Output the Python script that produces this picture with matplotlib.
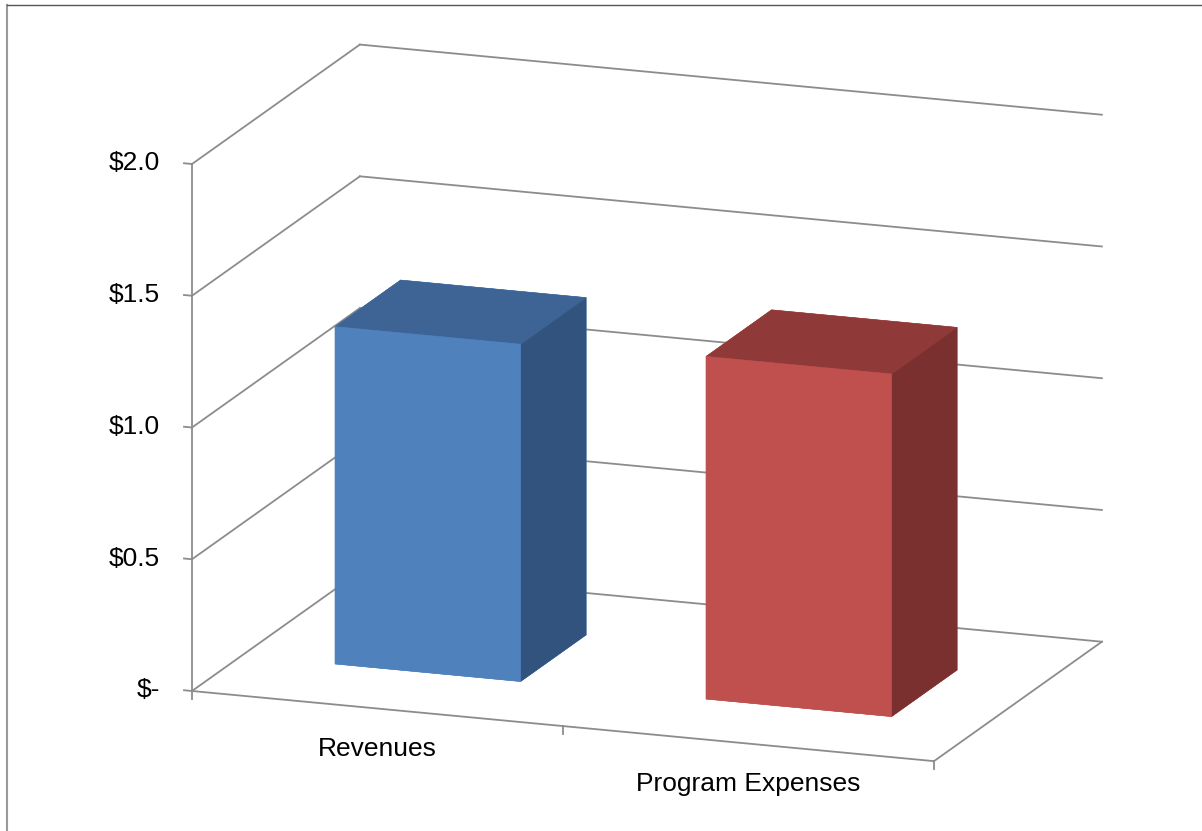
import numpy as np
import matplotlib
matplotlib.use("Agg")
import matplotlib.pyplot as plt
from matplotlib.lines import Line2D
from matplotlib.text import Text
from mpl_toolkits.mplot3d import proj3d

# ---------------- data ----------------
categories = ["Revenues", "Program Expenses"]
values = [1.28, 1.30]
tick_values = [0.0, 0.5, 1.0, 1.5, 2.0]
tick_labels = ["$-", "$0.5", "$1.0", "$1.5", "$2.0"]

front_colors = ["#4F81BD", "#C0504D"]
top_colors = ["#3D6495", "#8F3A38"]
side_colors = ["#32537D", "#7A302E"]

# ---------------- figure ----------------
W, H = 1202, 831
plt.rcParams["font.family"] = ["Liberation Sans", "DejaVu Sans"]
fig = plt.figure(figsize=(W / 100, H / 100), dpi=100)
fig.patch.set_facecolor("white")

ax = fig.add_axes([0.0, 0.0, 1.0, 1.0], projection="3d",
                  proj_type="ortho", computed_zorder=False)
ax.view_init(elev=15.03, azim=-69.97)
aspect = (789.8, 490.2, 545.7)
ax.set_box_aspect(aspect, zoom=1)
ncat = len(categories)
ax.set_xlim(0, ncat)
ax.set_ylim(0, 1)
ax.set_zlim(0, tick_values[-1])
ax.set_xticks([])
ax.set_yticks([])
ax.set_zticks([])
ax.set_axis_off()
ax.patch.set_visible(False)

grid_c = "#8C8C8C"
lw = 1.3
zmax = tick_values[-1]

# walls: gridlines on left wall and back wall
for v in tick_values:
    ax.plot([0, 0], [0, 1], [v, v], color=grid_c, lw=lw, zorder=1, clip_on=False)
    ax.plot([0, ncat], [1, 1], [v, v], color=grid_c, lw=lw, zorder=1, clip_on=False)
    # value ticks
    ax.plot([0, -0.0216], [0, 0], [v, v], color=grid_c, lw=lw, zorder=1, clip_on=False)

# vertical axis line
ax.plot([0, 0], [0, 0], [0, zmax], color=grid_c, lw=lw, zorder=1, clip_on=False)
# floor outline
ax.plot([0, ncat], [0, 0], [0, 0], color=grid_c, lw=lw, zorder=1, clip_on=False)
ax.plot([ncat, ncat], [0, 1], [0, 0], color=grid_c, lw=lw, zorder=1, clip_on=False)
# category ticks
for i in range(ncat + 1):
    ax.plot([i, i], [0, 0], [0, -0.03], color=grid_c, lw=lw, zorder=1, clip_on=False)

# bars
xs = np.arange(ncat) + 0.25
ys = np.full(ncat, 0.30)
zs = np.zeros(ncat)
face_cols = []
for i in range(ncat):
    # bottom, top, front(-y), back(+y), left(-x), right(+x)
    face_cols += [front_colors[i], top_colors[i], front_colors[i],
                  front_colors[i], front_colors[i], side_colors[i]]
bars = ax.bar3d(xs, ys, zs, 0.5, 0.39, values, color=face_cols,
                shade=False, edgecolor=face_cols, linewidth=0.4, zorder=2)
bars.set_clip_on(False)

# value labels
for v, lab in zip(tick_values, tick_labels):
    ax.text(-0.0864, 0, v, lab, zdir=None, ha="right", va="center_baseline",
            fontsize=19, color="black")

# category labels
for i, cat in enumerate(categories):
    ax.text(i + 0.5, 0, -0.155, cat, zdir=None, ha="center", va="center",
            fontsize=19, color="black")

# hide unused (empty) text objects of the 3D axes
for t in fig.findobj(Text):
    if t.get_text() == "":
        t.set_visible(False)

# ---------------- calibrate placement ----------------
def to_px(x, y, z):
    X, Y, _ = proj3d.proj_transform(x, y, z, ax.get_proj())
    return np.array(ax.transData.transform((X, Y)))

fig.canvas.draw()
p0 = to_px(0, 0, 0)
p2 = to_px(0, 0, zmax)
s = 527.0 / (p2[1] - p0[1])
ax.set_box_aspect(aspect, zoom=s)
fig.canvas.draw()
p0 = to_px(0, 0, 0)
target = np.array([192.0, H - 691.0])
d = target - p0
pos = ax.get_position(original=True)
ax.set_position([pos.x0 + d[0] / W, pos.y0 + d[1] / H, pos.width, pos.height])

# outer frame (left and top edges visible)
fig.lines.append(Line2D([7 / W, 7 / W], [0, 1 - 5 / H], transform=fig.transFigure,
                        color="#9A9A9A", lw=1.5))
fig.lines.append(Line2D([7 / W, 1], [1 - 5 / H, 1 - 5 / H], transform=fig.transFigure,
                        color="#555555", lw=1.0))

for t in fig.findobj(Text):
    if t.get_text() == "":
        t.set_visible(False)

fig.savefig("out.png", dpi=100, facecolor="white")
